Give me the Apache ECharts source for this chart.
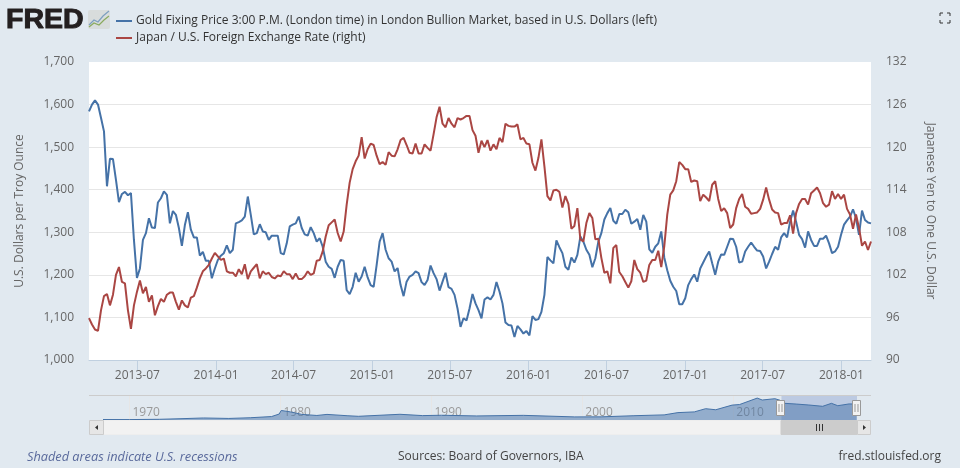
<!DOCTYPE html>
<html>
<head>
<meta charset="utf-8">
<title>FRED gold vs yen</title>
<script src="https://cdn.jsdelivr.net/npm/echarts@6/dist/echarts.min.js"></script>
<style>
  html, body { margin: 0; padding: 0; background: #e1e9f0; }
  #chart { width: 960px; height: 468px; }
</style>
</head>
<body>
<div id="chart"></div>
<script>
const firstWeek = '2013-03-10';
const lastWeek = '2018-03-11';

const goldValues = [
  1584,1600,1610,1600,1569,1537,1408,1473,1472,1423,1371,1390,1395,1387,1392,1282,1193,1215,1282,1298,
  1333,1311,1310,1370,1380,1396,1388,1321,1350,1341,1310,1268,1317,1347,1306,1288,1288,1245,1254,1233,
  1233,1192,1215,1235,1245,1251,1269,1251,1259,1321,1324,1328,1337,1384,1341,1295,1298,1319,1302,1300,
  1282,1292,1292,1292,1251,1248,1274,1314,1318,1321,1337,1310,1295,1292,1312,1298,1278,1286,1266,1231,
  1219,1214,1193,1219,1235,1233,1164,1155,1172,1205,1184,1196,1219,1194,1176,1172,1223,1278,1298,1259,
  1239,1231,1208,1216,1176,1150,1184,1196,1200,1208,1204,1183,1176,1188,1222,1204,1190,1163,1184,1205,
  1171,1167,1153,1121,1078,1098,1093,1121,1155,1133,1117,1098,1142,1147,1142,1153,1183,1161,1133,1088,
  1082,1081,1054,1080,1072,1062,1068,1058,1103,1094,1096,1113,1153,1242,1234,1227,1281,1265,1251,1219,
  1212,1241,1229,1247,1290,1278,1259,1247,1218,1239,1278,1298,1330,1345,1357,1327,1320,1343,1343,1353,
  1347,1320,1325,1331,1306,1341,1325,1260,1252,1266,1274,1302,1241,1211,1186,1172,1162,1131,1131,1145,
  1176,1190,1201,1184,1215,1229,1243,1255,1227,1200,1231,1248,1247,1266,1285,1284,1266,1229,1231,1255,
  1266,1276,1266,1257,1256,1243,1215,1231,1249,1266,1259,1288,1298,1288,1325,1351,1325,1294,1284,1264,
  1302,1282,1268,1268,1285,1285,1292,1274,1251,1255,1266,1294,1318,1328,1337,1354,1333,1294,1351,1329,
  1323,1321
];

const yenValues = [
  95.9,95.0,94.3,94.1,97.0,99.0,99.3,97.7,99.2,102.0,103.1,101.0,100.8,97.0,94.4,97.7,99.6,101.2,99.4,100.3,
  98.2,99.1,96.3,97.6,98.6,98.2,99.2,99.5,99.5,98.2,97.1,98.4,97.7,97.4,98.8,99.0,100.2,101.5,102.5,102.9,
  103.4,104.3,105.1,104.6,104.1,104.3,102.5,102.3,102.3,101.8,102.8,102.1,103.5,101.4,102.5,103.0,103.5,101.5,102.5,102.1,
  102.3,101.7,101.5,101.9,101.8,102.5,102.1,102.1,101.4,102.2,101.4,101.4,101.8,102.5,102.0,102.2,104.0,104.1,105.3,107.4,
  109.0,109.4,109.8,107.9,106.7,108.1,111.9,115.0,116.9,118.0,118.8,121.4,118.4,119.7,120.5,120.3,118.8,117.6,117.9,117.5,
  119.3,118.8,118.7,119.7,121.0,121.3,120.3,119.2,119.1,120.5,119.1,119.1,120.4,119.9,119.5,121.8,124.2,125.7,123.3,122.8,
  124.1,123.3,122.8,124.1,123.9,124.1,124.4,124.4,122.4,121.6,119.2,120.9,120.0,121.0,119.5,120.4,119.7,121.3,120.7,123.3,
  123.0,122.9,122.9,123.2,121.1,121.3,120.5,120.4,117.8,116.7,118.5,121.1,117.3,113.1,112.5,113.9,114.0,113.7,111.5,113.1,
  112.0,108.5,108.9,111.4,107.0,106.7,109.3,110.7,110.0,107.0,107.1,104.4,102.3,102.5,100.8,105.8,106.2,102.4,101.8,101.0,
  100.2,101.1,104.1,102.8,102.3,101.0,101.2,103.4,104.1,104.1,105.4,103.1,106.0,110.5,113.3,113.9,115.2,117.9,117.5,116.9,
  116.9,115.1,115.3,115.2,112.4,113.3,112.9,112.4,114.7,115.2,112.7,111.0,111.4,110.7,108.6,109.1,111.4,112.7,113.4,111.6,
  111.3,110.6,110.7,110.8,111.3,112.6,114.3,112.6,111.2,110.8,110.7,109.1,109.3,109.3,110.4,107.8,110.7,112.0,112.7,112.7,
  111.9,113.5,113.9,114.3,113.5,112.1,111.6,111.9,113.8,112.7,113.4,112.7,113.3,111.3,110.5,108.5,110.5,108.6,106.1,106.7,
  105.5,106.7
];

const xTickDates = ['2013-07-01','2014-01-01','2014-07-01','2015-01-01','2015-07-01','2016-01-01','2016-07-01','2017-01-01','2017-07-01','2018-01-01'];

// long history shown in the navigator strip
const navDates = ['1968-04-01','1970-01-01','1972-01-01','1973-06-01','1974-12-01','1976-08-01','1978-01-01','1979-06-01','1979-12-01','1980-01-20','1980-03-01','1980-09-01','1981-06-01','1982-06-01','1983-02-01','1984-06-01','1985-03-01','1987-12-01','1989-06-01','1990-09-01','1993-01-01','1996-02-01','1999-07-01','2001-04-01','2003-06-01','2005-06-01','2006-05-01','2007-06-01','2008-03-01','2008-11-01','2009-12-01','2010-06-01','2011-08-01','2011-12-01','2012-10-01','2013-02-01','2013-06-01','2014-03-01','2015-01-01','2015-12-01','2016-07-01','2016-12-01','2017-09-01','2018-03-01'];
const navValues = [40,36,60,110,170,130,190,290,500,800,640,680,470,380,470,360,310,480,370,400,340,390,260,265,360,430,620,680,950,860,1250,1300,1840,1680,1790,1660,1400,1340,1260,1150,1400,1200,1350,1340];
const navTickDates = ['1970-01-01','1980-01-01','1990-01-01','2000-01-01','2010-01-01'];

const BLUE = '#4572a7';
const RED = '#aa4643';
const TEXT = '#666666';
const FONT = '"Open Sans", sans-serif';

const ts = s => new Date(s + 'T00:00:00').getTime();
const DAY = 86400000;
const weekDates = goldValues.map((_, i) => ts(firstWeek) + i * 7 * DAY);

const chart = echarts.init(document.getElementById('chart'));

// small pixel helpers for the logo and the scrollbar furniture
const rect = (x, y, w, h, fill, stroke) => ({
  type: 'rect', shape: { x, y, width: w, height: h },
  style: { fill, stroke: stroke || null, lineWidth: 1 }, z: 50
});
const poly = (points, stroke, lineWidth) => ({
  type: 'polyline', shape: { points },
  style: { stroke, fill: null, lineWidth: lineWidth || 1 }, z: 51
});
const label = (x, y, text, font, fill, align) => ({
  type: 'text', x, y, z: 50,
  style: { text, font, fill, align: align || 'left', verticalAlign: 'middle' }
});
const handle = x => [
  rect(x - 4, 400.5, 8, 15, '#f2f2f2', '#999999'),
  poly([[x - 1.5, 404], [x - 1.5, 412]], '#999999'),
  poly([[x + 1.5, 404], [x + 1.5, 412]], '#999999')
];

const furniture = [
  // logo
  {
    type: 'text', x: 6, y: 20, z: 50,
    style: {
      text: 'FRED', font: 'bold 28.5px "Liberation Sans", Arial, sans-serif',
      fill: '#231f20', stroke: '#231f20', lineWidth: 1, verticalAlign: 'middle'
    }
  },
  { type: 'rect', shape: { x: 88, y: 10, width: 22, height: 19, r: 2 }, style: { fill: '#d8dcdc' }, z: 50 },
  poly([[89, 25], [94, 20], [98, 22], [103, 16], [109, 11]], '#7d9fbf', 1.2),
  poly([[89, 27], [94, 23], [99, 25], [104, 20], [109, 16]], '#8aaa5e', 1.2),
  // full screen icon
  poly([[940, 16], [940, 13], [943, 13]], '#333333', 1),
  poly([[947, 13], [950, 13], [950, 16]], '#333333', 1),
  poly([[940, 20], [940, 23], [943, 23]], '#333333', 1),
  poly([[947, 23], [950, 23], [950, 20]], '#333333', 1),
  // navigator frame and scrollbar
  poly([[89, 395.5], [871, 395.5]], '#cccccc'),
  rect(89.5, 420.5, 781, 14, '#f2f2f2', '#eeeeee'),
  rect(89.5, 420.5, 14, 14, '#e6e6e6', '#cccccc'),
  rect(857.5, 420.5, 13, 14, '#e6e6e6', '#cccccc'),
  { type: 'polygon', shape: { points: [[98, 425], [98, 430], [95, 427.5]] }, style: { fill: '#333333' }, z: 52 },
  { type: 'polygon', shape: { points: [[863, 425], [863, 430], [866, 427.5]] }, style: { fill: '#333333' }, z: 52 },
  rect(781, 420.5, 76, 14, '#cccccc', '#cccccc'),
  poly([[816.5, 424], [816.5, 431]], '#333333'),
  poly([[819.5, 424], [819.5, 431]], '#333333'),
  poly([[822.5, 424], [822.5, 431]], '#333333'),
  ...handle(780.5),
  ...handle(856.5),
  // footer
  label(27, 457, 'Shaded areas indicate U.S. recessions', 'italic 12.75px ' + FONT, '#5a6a9c'),
  label(398, 457, 'Sources: Board of Governors, IBA', '12px ' + FONT, '#444444'),
  label(941, 457, 'fred.stlouisfed.org', '12px ' + FONT, '#444444', 'right')
];

const option = {
  animation: false,
  backgroundColor: '#e1e9f0',
  textStyle: { fontFamily: FONT },
  legend: {
    left: 111,
    top: 10,
    orient: 'vertical',
    itemWidth: 16,
    itemHeight: 2,
    itemGap: 5,
    icon: 'rect',
    selectedMode: false,
    textStyle: { fontFamily: FONT, fontSize: 12, color: '#333333', padding: [0, 0, 0, -1] },
    data: [
      'Gold Fixing Price 3:00 P.M. (London time) in London Bullion Market, based in U.S. Dollars (left)',
      'Japan / U.S. Foreign Exchange Rate (right)'
    ]
  },
  grid: [
    { left: 89, top: 62, width: 782, height: 298, show: true, backgroundColor: '#ffffff', borderWidth: 0 },
    { left: 103, top: 395, width: 754, height: 25 }
  ],
  xAxis: [
    {
      // numeric milliseconds, so the FRED tick dates can be placed one by one
      type: 'value',
      gridIndex: 0,
      min: ts(firstWeek),
      max: ts(lastWeek),
      axisLine: { lineStyle: { color: '#c0d0e0' } },
      axisTick: { length: 10, lineStyle: { color: '#c0d0e0' }, customValues: xTickDates.map(ts) },
      axisLabel: {
        customValues: xTickDates.map(ts),
        margin: 10,
        fontSize: 12,
        color: TEXT,
        formatter: v => {
          const d = new Date(v);
          return d.getFullYear() + '-' + String(d.getMonth() + 1).padStart(2, '0');
        }
      },
      splitLine: { show: false }
    },
    {
      type: 'value',
      gridIndex: 1,
      min: ts('1968-04-01'),
      max: ts('2018-03-11'),
      axisLine: { show: false },
      axisTick: { inside: true, length: 25, lineStyle: { color: '#e6e6e6' }, customValues: navTickDates.map(ts) },
      axisLabel: {
        customValues: navTickDates.map(ts),
        inside: true,
        margin: 1,
        fontSize: 12,
        color: '#999999',
        align: 'left',
        padding: [0, 0, 0, 3],
        formatter: v => String(new Date(v).getFullYear())
      },
      splitLine: { show: false }
    }
  ],
  yAxis: [
    {
      type: 'value',
      gridIndex: 0,
      min: 1000,
      max: 1700,
      interval: 100,
      name: 'U.S. Dollars per Troy Ounce',
      nameLocation: 'middle',
      nameGap: 63,
      nameRotate: 90,
      nameTextStyle: { fontSize: 12, color: TEXT },
      axisLine: { show: false },
      axisTick: { show: false },
      axisLabel: { margin: 15, fontSize: 12, color: TEXT, padding: [2, 0, 0, 0], formatter: v => v.toLocaleString('en-US') },
      splitLine: { showMinLine: false, showMaxLine: false, lineStyle: { color: '#e6e6e6' } }
    },
    {
      type: 'value',
      gridIndex: 0,
      position: 'right',
      min: 90,
      max: 132,
      interval: 6,
      name: 'Japanese Yen to One U.S. Dollar',
      nameLocation: 'middle',
      nameGap: 53,
      nameRotate: -90,
      nameTextStyle: { fontSize: 12, color: TEXT },
      axisLine: { show: false },
      axisTick: { show: false },
      axisLabel: { margin: 15, fontSize: 12, color: TEXT, padding: [2, 0, 0, 0] },
      splitLine: { show: false }
    },
    {
      type: 'value',
      gridIndex: 1,
      min: 0,
      max: 2100,
      show: false
    }
  ],
  series: [
    {
      name: 'Gold Fixing Price 3:00 P.M. (London time) in London Bullion Market, based in U.S. Dollars (left)',
      type: 'line',
      xAxisIndex: 0,
      yAxisIndex: 0,
      data: weekDates.map((d, i) => [d, goldValues[i]]),
      showSymbol: false,
      symbol: 'none',
      itemStyle: { color: BLUE },
      lineStyle: { color: BLUE, width: 2 }
    },
    {
      name: 'Japan / U.S. Foreign Exchange Rate (right)',
      type: 'line',
      xAxisIndex: 0,
      yAxisIndex: 1,
      data: weekDates.map((d, i) => [d, yenValues[i]]),
      showSymbol: false,
      symbol: 'none',
      itemStyle: { color: RED },
      lineStyle: { color: RED, width: 2 }
    },
    {
      name: 'navigator',
      type: 'line',
      xAxisIndex: 1,
      yAxisIndex: 2,
      data: navDates.map((d, i) => [ts(d), navValues[i]]),
      showSymbol: false,
      symbol: 'none',
      lineStyle: { color: BLUE, width: 1 },
      areaStyle: { color: BLUE, opacity: 0.5 },
      markArea: {
        silent: true,
        itemStyle: { color: 'rgba(102,133,194,0.3)' },
        data: [[{ xAxis: ts(firstWeek) }, { xAxis: ts(lastWeek) }]]
      }
    }
  ],
  graphic: { elements: furniture }
};

chart.setOption(option);
</script>
</body>
</html>
